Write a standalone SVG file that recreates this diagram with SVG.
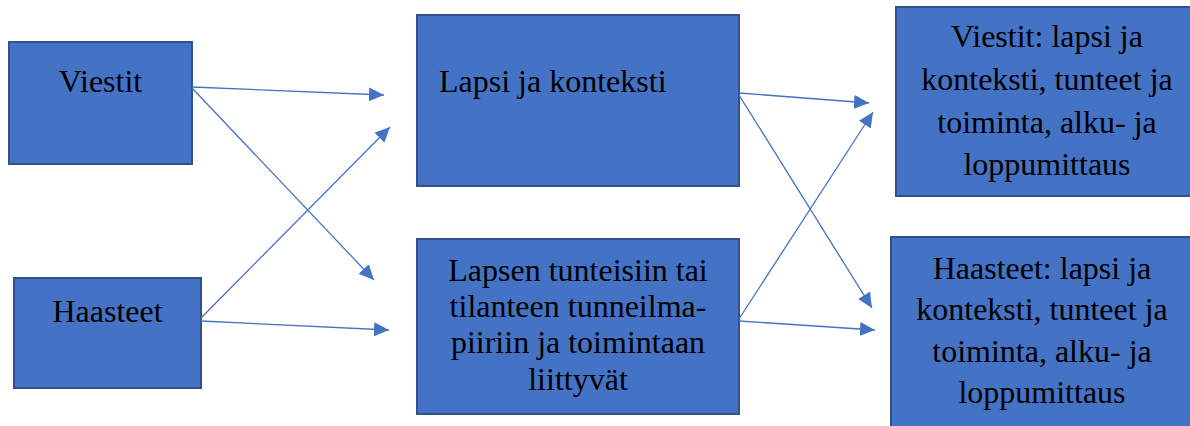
<svg xmlns="http://www.w3.org/2000/svg" width="1190" height="426" viewBox="0 0 1190 426">
<defs>
<marker id="ah" viewBox="0 0 15 14" refX="15" refY="7" markerWidth="15" markerHeight="14" markerUnits="userSpaceOnUse" orient="auto">
<path d="M0,0 L15,7 L0,14 z" fill="#4472C4"/>
</marker>
</defs>
<rect width="1190" height="426" fill="#fff"/>
<g id="viestit">
<rect x="9" y="42" width="183" height="122" fill="#4472C4" stroke="#2F528F" stroke-width="2"/>
<text font-family="Liberation Serif" font-size="32" text-anchor="middle" x="100.5" y="92">Viestit</text>
</g>
<g id="haasteet">
<rect x="14" y="278" width="187" height="110" fill="#4472C4" stroke="#2F528F" stroke-width="2"/>
<text font-family="Liberation Serif" font-size="32" text-anchor="middle" x="107.5" y="322">Haasteet</text>
</g>
<g id="lapsi">
<rect x="417" y="15" width="322" height="171" fill="#4472C4" stroke="#2F528F" stroke-width="2"/>
<text font-family="Liberation Serif" font-size="32" x="439" y="92">Lapsi ja konteksti</text>
</g>
<g id="tunteet">
<rect x="417" y="239" width="322" height="175" fill="#4472C4" stroke="#2F528F" stroke-width="2"/>
<text font-family="Liberation Serif" font-size="32" text-anchor="middle" x="578" y="281">Lapsen tunteisiin tai</text>
<text font-family="Liberation Serif" font-size="32" text-anchor="middle" x="578" y="317">tilanteen tunneilma-</text>
<text font-family="Liberation Serif" font-size="32" text-anchor="middle" x="578" y="353">piiriin ja toimintaan</text>
<text font-family="Liberation Serif" font-size="32" text-anchor="middle" x="578" y="390">liittyvät</text>
</g>
<g id="viestit-out">
<rect x="896" y="7" width="310" height="189" fill="#4472C4" stroke="#2F528F" stroke-width="2"/>
<text font-family="Liberation Serif" font-size="32" text-anchor="middle" x="1047" y="47">Viestit: lapsi ja</text>
<text font-family="Liberation Serif" font-size="32" text-anchor="middle" x="1047" y="90">konteksti, tunteet ja</text>
<text font-family="Liberation Serif" font-size="32" text-anchor="middle" x="1047" y="133">toiminta, alku- ja</text>
<text font-family="Liberation Serif" font-size="32" text-anchor="middle" x="1047" y="175">loppumittaus</text>
</g>
<g id="haasteet-out">
<rect x="891" y="237" width="310" height="200" fill="#4472C4" stroke="#2F528F" stroke-width="2"/>
<text font-family="Liberation Serif" font-size="32" text-anchor="middle" x="1042" y="279">Haasteet: lapsi ja</text>
<text font-family="Liberation Serif" font-size="32" text-anchor="middle" x="1042" y="320">konteksti, tunteet ja</text>
<text font-family="Liberation Serif" font-size="32" text-anchor="middle" x="1042" y="362">toiminta, alku- ja</text>
<text font-family="Liberation Serif" font-size="32" text-anchor="middle" x="1042" y="403">loppumittaus</text>
</g>
<g id="connectors" stroke="#4472C4" stroke-width="1.3" fill="none" marker-end="url(#ah)">
<line x1="192" y1="87" x2="384" y2="95"/>
<line x1="192" y1="88" x2="374" y2="280"/>
<line x1="201" y1="318" x2="390" y2="127"/>
<line x1="201" y1="321" x2="389" y2="330"/>
<line x1="739" y1="93" x2="869" y2="103"/>
<line x1="739" y1="95" x2="872" y2="308"/>
<line x1="739" y1="319" x2="873" y2="112"/>
<line x1="739" y1="321" x2="875" y2="330"/>
</g>
</svg>
